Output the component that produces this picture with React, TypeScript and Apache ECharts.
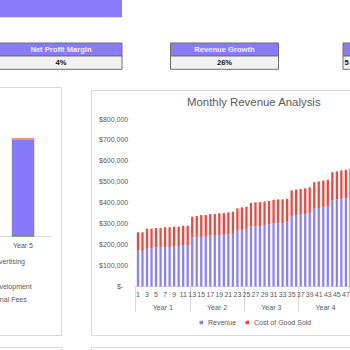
import React, { useEffect, useRef } from "react";
import * as echarts from "echarts";

// ---- Monthly Revenue Analysis (main chart) ----
const monthLabels = [
  "1","2","3","4","5","6","7","8","9","10","11","12",
  "13","14","15","16","17","18","19","20","21","22","23","24",
  "25","26","27","28","29","30","31","32","33","34","35","36",
  "37","38","39","40","41","42","43","44","45","46","47","48",
];
const yearLabels = ["Year 1", "Year 2", "Year 3", "Year 4"];
const revenue = [
  171000,170000,180000,183000,186000,187000,189000,189000,193000,193000,197000,197000,
  234000,235000,237000,238000,242000,243000,245000,247000,250000,252000,266000,271000,
  275000,286000,287000,289000,294000,297000,300000,302000,303000,309000,337000,341000,
  343000,346000,350000,372000,375000,378000,383000,413000,416000,419000,422000,424000,
];
const costOfGoodSold = [
  88000,89000,96000,93000,93000,92000,94000,94000,93000,93000,93000,93000,
  99000,102000,104000,103000,104000,103000,105000,103000,104000,105000,107000,107000,
  106000,113000,115000,114000,112000,112000,114000,114000,113000,110000,122000,122000,
  123000,123000,124000,126000,127000,128000,127000,133000,134000,135000,135000,137000,
];
const yTicks = { min: 0, max: 800000, interval: 100000 };

// ---- Expense chart (left, mostly cropped) ----
const expenseYears = ["Year 1", "Year 2", "Year 3", "Year 4", "Year 5"];
const rent = [22000, 24000, 26000, 28000, 30000];
const salaries = [1250000, 1480000, 1700000, 1900000, 2100000];
const advertising = [20000, 22000, 25000, 28000, 30000];
const development = [0, 0, 0, 0, 0];
const professionalFees = [0, 0, 0, 0, 0];

// ---- KPI boxes ----
const kpiNames = ["Net Profit Margin", "Revenue Growth", ""];
const kpiValues = ["4%", "26%", "5"];

const PURPLE = "#8A7FFF";
const RED = "#F2453B";
const GREEN = "#3F6B2A";
const HEAD = "#8A7CF8";
const GREY = "#595959";
const BORDER = "#D9D9D9";
const FONT = "Liberation Sans";

// the canvas starts OX px left of the visible page (the dashboard is cropped)
const OX = 240;
const CW = 600;

export default function App() {
  const ref = useRef<HTMLDivElement>(null);
  useEffect(() => {
    if (!ref.current) return;
    const chart = echarts.init(ref.current, undefined, { renderer: "svg" });

    const kpiBoxes = [
      { x: -5, w: 127 },
      { x: 170.5, w: 108 },
      { x: 343, w: 120 },
    ];
    const graphics: any[] = [];
    graphics.push({ type: "rect", z: -5, shape: { x: OX - 5, y: -5, width: 127, height: 22.3 }, style: { fill: HEAD } });
    kpiBoxes.forEach((b, i) => {
      const bx = b.x + OX;
      graphics.push({ type: "rect", z: -5, shape: { x: bx, y: 43, width: b.w, height: 13 }, style: { fill: HEAD, stroke: "#6E6E6E", lineWidth: 1 } });
      graphics.push({ type: "rect", z: -5, shape: { x: bx, y: 56, width: b.w, height: 13.3 }, style: { fill: "#F2F2F2", stroke: "#6E6E6E", lineWidth: 1 } });
      const cx = bx + b.w / 2 + (i === 0 ? 2.5 : 0);
      if (kpiNames[i]) {
        graphics.push({ type: "text", z: 1, x: cx, y: 49.7, style: { text: kpiNames[i], fill: "#F4F2FF", font: `bold 7.6px "${FONT}"`, align: "center", verticalAlign: "middle" } });
      }
      graphics.push({ type: "text", z: 1, x: i === 2 ? bx + 1.5 : cx, y: 62.8, style: { text: kpiValues[i], fill: "#111", font: `bold 7.6px "${FONT}"`, align: i === 2 ? "left" : "center", verticalAlign: "middle" } });
    });
    // panels
    graphics.push({ type: "rect", z: -5, shape: { x: OX - 80, y: 87.5, width: 141.5, height: 248 }, style: { fill: "#fff", stroke: BORDER, lineWidth: 1 } });
    graphics.push({ type: "rect", z: -5, shape: { x: OX + 91.5, y: 90.5, width: 320, height: 245 }, style: { fill: "#fff", stroke: BORDER, lineWidth: 1 } });
    graphics.push({ type: "rect", z: -5, shape: { x: OX - 80, y: 347.5, width: 141.5, height: 30 }, style: { fill: "#fff", stroke: BORDER, lineWidth: 1 } });
    graphics.push({ type: "rect", z: -5, shape: { x: OX + 91.5, y: 347.5, width: 320, height: 30 }, style: { fill: "#fff", stroke: BORDER, lineWidth: 1 } });

    const axisText = { fontSize: 7, color: GREY, fontFamily: FONT };
    const smallLegend = { padding: 0, icon: "rect", itemWidth: 4, itemHeight: 4, textStyle: axisText };

    chart.setOption({
      animation: false,
      backgroundColor: "#fff",
      title: {
        text: "Monthly Revenue Analysis",
        left: OX + 187,
        top: 96.5,
        padding: 0,
        textStyle: { fontSize: 11.4, fontWeight: "normal", color: GREY, fontFamily: FONT },
      },
      graphic: { elements: graphics },
      legend: [
        {
          data: ["Revenue", "Cost of Good Sold"],
          left: OX + 199.5,
          top: 319,
          padding: 0,
          icon: "rect",
          itemWidth: 3.5,
          itemHeight: 3.5,
          itemGap: 9.5,
          textStyle: axisText,
        },
        { ...smallLegend, data: ["Advertising"], right: CW - OX - 25, top: 257.5 },
        { ...smallLegend, data: ["Research & Development"], right: CW - OX - 31.7, top: 282.5 },
        { ...smallLegend, data: ["Professional Fees"], right: CW - OX - 26.7, top: 295.5 },
      ],
      grid: [
        { left: OX + 135.7, right: CW - OX - 352.66, top: 119, bottom: 63.5 },
        { left: OX - 229, right: CW - OX - 51, top: 100, bottom: 113.5 },
      ],
      xAxis: [
        {
          type: "category",
          gridIndex: 0,
          data: monthLabels,
          position: "bottom",
          axisLine: { lineStyle: { color: BORDER } },
          axisTick: { show: false },
          axisLabel: { ...axisText, interval: 1, margin: 4.5 },
        },
        {
          type: "category",
          gridIndex: 0,
          data: yearLabels,
          position: "bottom",
          axisLine: { show: false },
          axisTick: { show: true, length: 25.5, interval: 0, lineStyle: { color: BORDER } },
          axisLabel: { ...axisText, interval: 0, margin: 17.5 },
        },
        {
          type: "category",
          gridIndex: 1,
          data: expenseYears,
          axisLine: { lineStyle: { color: BORDER } },
          axisTick: { show: false },
          axisLabel: { ...axisText, interval: 0, margin: 5.5 },
        },
      ],
      yAxis: [
        {
          type: "value",
          gridIndex: 0,
          min: yTicks.min,
          max: yTicks.max,
          interval: yTicks.interval,
          splitLine: { show: false },
          axisLine: { show: false },
          axisTick: { show: false },
          axisLabel: {
            ...axisText,
            margin: 7.5,
            formatter: (v: number) => (v === 0 ? "{z|$-}" : "$" + v.toLocaleString("en-US")),
            rich: { z: { fontSize: 7, color: GREY, fontFamily: FONT, padding: [0, 5, 0, 0] } },
          },
        },
        { type: "value", gridIndex: 1, min: 0, max: 3000000, show: false, splitLine: { show: false } },
      ],
      series: [
        { name: "Revenue", type: "bar", stack: "m", xAxisIndex: 0, yAxisIndex: 0, barWidth: "50%", itemStyle: { color: PURPLE }, data: revenue },
        { name: "Cost of Good Sold", type: "bar", stack: "m", xAxisIndex: 0, yAxisIndex: 0, barWidth: "50%", itemStyle: { color: RED }, data: costOfGoodSold },
        { name: "Rent", type: "bar", stack: "e", xAxisIndex: 2, yAxisIndex: 1, barWidth: "40%", itemStyle: { color: GREEN }, data: rent },
        { name: "Salaries", type: "bar", stack: "e", xAxisIndex: 2, yAxisIndex: 1, barWidth: "40%", itemStyle: { color: "#8479FA" }, data: salaries },
        { name: "Advertising", type: "bar", stack: "e", xAxisIndex: 2, yAxisIndex: 1, barWidth: "40%", itemStyle: { color: "#F06A5E" }, data: advertising },
        { name: "Research & Development", type: "bar", stack: "e", xAxisIndex: 2, yAxisIndex: 1, barWidth: "40%", itemStyle: { color: "#F5A623" }, data: development },
        { name: "Professional Fees", type: "bar", stack: "e", xAxisIndex: 2, yAxisIndex: 1, barWidth: "40%", itemStyle: { color: "#4BACC6" }, data: professionalFees },
      ],
    });
    return () => chart.dispose();
  }, []);

  return (
    <div style={{ position: "fixed", left: 0, top: 0, width: 350, height: 350, overflow: "hidden", background: "#fff" }}>
      <div ref={ref} style={{ position: "absolute", left: -OX, top: 0, width: CW, height: 350 }} />
    </div>
  );
}
